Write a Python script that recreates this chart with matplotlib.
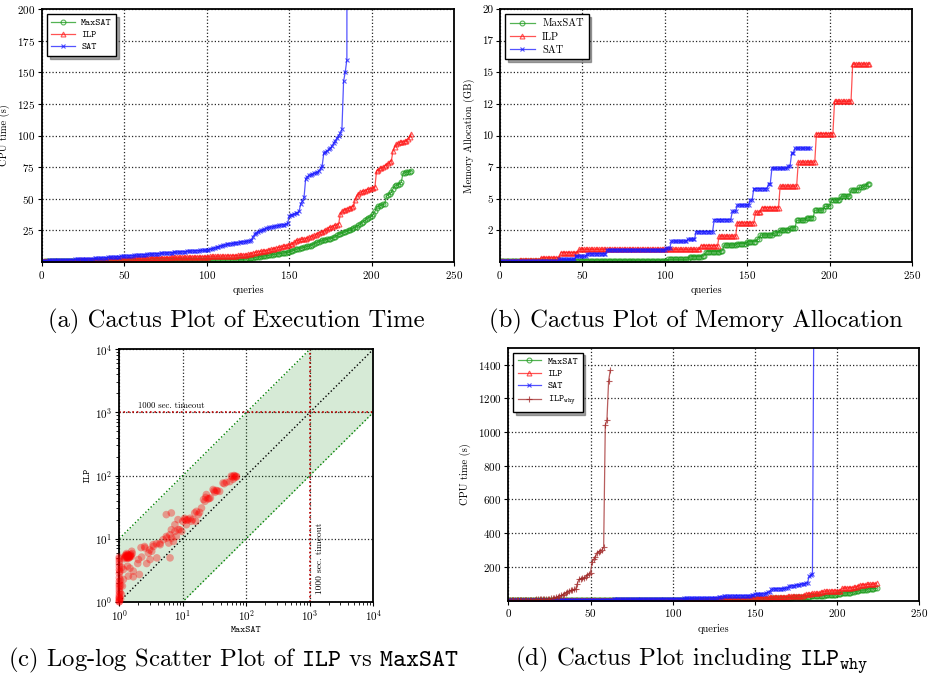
import numpy as np
import matplotlib
matplotlib.use('Agg')
import matplotlib.pyplot as plt
from matplotlib.ticker import FixedLocator, FixedFormatter

plt.rcParams['font.family'] = ['cmr10', 'DejaVu Serif']
plt.rcParams['mathtext.fontset'] = 'cm'
plt.rcParams['axes.formatter.use_mathtext'] = True
plt.rcParams['axes.unicode_minus'] = False

# ---------------- data: CPU time (s), sorted per solver ----------------
time_maxsat = [
    0.3, 0.3, 0.4, 0.4, 0.4, 0.5, 0.5, 0.5, 0.5, 0.6, 0.6, 0.6, 0.6, 0.7, 0.7, 0.7, 0.7, 0.7, 0.8, 0.8,
    0.8, 0.8, 0.8, 0.8, 0.9, 0.9, 0.9, 0.9, 0.9, 0.9, 1.0, 1.0, 1.0, 1.0, 1.0, 1.0, 1.0, 1.0, 1.0, 1.0,
    1.0, 1.0, 1.0, 1.0, 1.0, 1.05, 1.05, 1.05, 1.05, 1.05, 1.1, 1.1, 1.1, 1.1, 1.1, 1.1, 1.1, 1.1, 1.1, 1.1,
    1.1, 1.1, 1.15, 1.15, 1.15, 1.15, 1.2, 1.2, 1.2, 1.2, 1.2, 1.25, 1.25, 1.25, 1.25, 1.3, 1.3, 1.3, 1.3, 1.3,
    1.35, 1.35, 1.35, 1.35, 1.4, 1.4, 1.4, 1.4, 1.4, 1.45, 1.45, 1.45, 1.45, 1.5, 1.5, 1.5, 1.5, 1.5, 1.5, 1.5,
    1.5, 1.55, 1.55, 1.6, 1.6, 1.65, 1.65, 1.7, 1.7, 1.75, 1.75, 1.8, 1.8, 1.85, 1.85, 1.9, 1.9, 1.95, 1.95, 2.0,
    2.0, 2.1, 2.2, 2.4, 2.6, 2.8, 3.0, 3.2, 3.4, 3.6, 3.8, 4.0, 4.2, 4.4, 4.6, 4.8, 5.0, 5.2, 5.4, 5.6,
    5.8, 6.0, 6.2, 6.4, 6.6, 6.8, 7.0, 7.2, 7.4, 7.6, 8.0, 8.5, 9.0, 9.5, 10.0, 10.3, 10.6, 11.0, 11.3, 11.6,
    12.0, 12.3, 12.6, 13.0, 13.5, 14.5, 15.0, 15.5, 16.0, 16.5, 17.0, 17.3, 17.6, 18.0, 18.3, 18.5, 19.0, 19.5, 20.0, 21.0,
    22.0, 22.5, 23.0, 23.5, 24.0, 24.5, 25.0, 25.5, 26.0, 27.0, 27.5, 28.0, 29.0, 30.0, 31.0, 32.0, 33.0, 34.0, 35.0, 35.5,
    36.0, 38.0, 40.0, 43.0, 44.0, 44.5, 45.0, 45.5, 46.0, 52.0, 53.0, 54.0, 55.0, 58.0, 60.0, 60.5, 61.0, 62.0, 63.0, 70.0,
    70.5, 71.0, 71.2, 71.5, 72.0]

time_ilp = [
    0.5, 0.5, 0.6, 0.6, 0.6, 0.7, 0.7, 0.7, 0.8, 0.8, 0.8, 0.9, 0.9, 0.9, 1.0, 1.0, 1.0, 1.0, 1.1, 1.1,
    1.1, 1.1, 1.2, 1.2, 1.2, 1.3, 1.3, 1.3, 1.4, 1.4, 1.5, 1.5, 1.6, 1.6, 1.7, 1.7, 1.8, 1.8, 1.9, 1.9,
    2.0, 2.0, 2.1, 2.1, 2.2, 2.2, 2.3, 2.3, 2.4, 2.4, 2.5, 2.5, 2.6, 2.6, 2.7, 2.7, 2.8, 2.8, 2.9, 2.9,
    3.0, 3.0, 3.0, 3.1, 3.1, 3.1, 3.2, 3.2, 3.2, 3.3, 3.3, 3.3, 3.4, 3.4, 3.4, 3.5, 3.5, 3.5, 3.6, 3.6,
    3.6, 3.7, 3.7, 3.7, 3.8, 3.8, 3.8, 3.9, 3.9, 3.9, 4.0, 4.0, 4.0, 4.1, 4.1, 4.1, 4.2, 4.2, 4.2, 4.3,
    4.3, 4.3, 4.4, 4.4, 4.4, 4.5, 4.5, 4.5, 4.6, 4.6, 4.7, 4.7, 4.8, 4.8, 4.9, 4.9, 5.0, 5.0, 5.1, 5.2,
    5.3, 5.4, 5.5, 5.6, 5.8, 6.0, 6.3, 6.6, 7.0, 7.4, 7.8, 8.0, 8.2, 8.4, 8.6, 8.8, 9.0, 9.3, 9.6, 10.0,
    10.3, 10.6, 11.0, 11.3, 11.6, 12.0, 12.3, 12.6, 12.9, 13.2, 13.5, 14.0, 14.5, 15.5, 16.5, 17.0, 17.5, 17.8, 18.0, 18.2,
    18.5, 19.0, 19.5, 20.0, 20.5, 21.0, 21.5, 22.5, 23.0, 23.5, 24.0, 24.5, 25.0, 26.0, 27.0, 27.5, 28.0, 28.5, 29.0, 29.5,
    30.0, 38.0, 40.0, 41.0, 41.5, 42.0, 42.5, 43.0, 43.5, 44.0, 49.0, 52.0, 54.0, 55.0, 55.5, 56.0, 56.5, 57.0, 57.5, 58.0,
    58.2, 58.5, 59.0, 72.0, 73.0, 74.0, 74.5, 75.0, 76.0, 77.0, 78.0, 79.0, 80.0, 88.0, 91.0, 93.0, 94.0, 94.5, 95.0, 95.0,
    95.5, 96.0, 97.0, 99.0, 101.0]

time_sat = [
    1.0, 1.0, 1.1, 1.1, 1.2, 1.2, 1.3, 1.3, 1.4, 1.4, 1.5, 1.5, 1.6, 1.6, 1.7, 1.7, 1.8, 1.8, 1.9, 1.9,
    2.0, 2.0, 2.1, 2.1, 2.2, 2.2, 2.3, 2.3, 2.4, 2.5, 2.6, 2.7, 2.8, 2.9, 3.0, 3.1, 3.2, 3.3, 3.4, 3.5,
    3.6, 3.7, 3.8, 3.9, 4.0, 4.1, 4.2, 4.3, 4.4, 4.5, 4.6, 4.7, 4.8, 4.9, 5.0, 5.1, 5.2, 5.3, 5.4, 5.5,
    5.6, 5.7, 5.8, 5.9, 6.0, 6.1, 6.2, 6.3, 6.4, 6.5, 6.6, 6.7, 6.8, 6.9, 7.0, 7.1, 7.2, 7.3, 7.4, 7.5,
    7.6, 7.7, 7.8, 7.9, 8.0, 8.1, 8.2, 8.3, 8.4, 8.5, 8.6, 8.7, 8.8, 8.9, 9.0, 9.0, 9.1, 9.1, 9.2, 9.2,
    9.3, 9.6, 10.0, 10.4, 10.8, 11.2, 11.6, 12.0, 12.4, 12.8, 13.2, 13.6, 14.0, 14.2, 14.4, 14.6, 14.8, 15.0, 15.2, 15.4,
    15.6, 15.8, 16.0, 16.2, 16.4, 16.6, 16.8, 17.5, 20.0, 22.0, 23.0, 24.0, 24.5, 25.0, 25.5, 26.0, 26.5, 27.0, 27.3, 27.6,
    27.9, 28.2, 28.5, 28.8, 29.0, 29.2, 29.4, 29.6, 29.8, 30.5, 36.0, 37.0, 37.5, 38.0, 38.5, 39.0, 40.0, 46.0, 48.0, 51.0,
    66.0, 67.5, 68.5, 69.0, 69.5, 70.0, 70.5, 71.0, 72.0, 74.0, 76.0, 86.0, 87.0, 88.0, 89.0, 90.0, 92.0, 94.0, 96.0, 98.0,
    100.0, 102.0, 105.0, 143.0, 150.0, 160.0, 2000.0]

time_ilp_why = [
    1, 1, 1, 2, 2, 2, 2, 3, 3, 3, 3, 4, 4, 4, 5, 5, 5, 6, 6, 6, 7, 7, 8, 8, 9,
    10, 12, 14, 17, 20, 23, 26, 30, 35, 40,
    45, 50, 55, 60, 63, 66, 70, 100, 125, 130,
    133, 136, 140, 150, 158, 165,
    230, 245, 260, 280, 290, 295, 300, 315,
    1040, 1070, 1300, 1365]

# ---------------- data: memory allocation (GB), run-length levels ----------------
mem_maxsat_levels = [0.05, 0.08, 0.2, 0.42, 0.5, 0.82, 0.9, 1.34, 1.45, 1.6, 1.8, 2.13, 2.3, 2.53, 2.7,
                     3.3, 3.5, 4.1, 4.4, 4.9, 5.2, 5.7, 5.9, 6.0, 6.2]
mem_maxsat_runs = [50, 52, 13, 8, 2, 9, 2, 8, 6, 6, 2, 8, 4, 6, 4,
                   6, 5, 6, 4, 6, 6, 5, 3, 2, 2]

mem_ilp_levels = [0.05, 0.15, 0.35, 0.75, 1.0, 1.3, 2.05, 3.1, 3.95, 4.3, 6.0, 7.9, 10.15, 12.7, 15.65]
mem_ilp_runs = [12, 13, 12, 11, 74, 11, 11, 11, 4, 11, 11, 11, 11, 11, 11]

mem_sat_levels = [0.05, 0.2, 0.45, 0.65, 0.95, 1.1, 1.65, 1.8, 2.4, 3.35, 4.0, 4.5, 4.9, 5.8, 6.2,
                  7.4, 7.6, 8.6, 9.0]
mem_sat_runs = [36, 10, 7, 12, 36, 3, 10, 5, 11, 11, 3, 8, 2, 9, 2,
                10, 2, 2, 10]

# ---------------- data: scatter ILP vs MaxSAT (s) ----------------
scatter_maxsat = [
    1.0, 1.0, 1.0, 1.0, 1.0, 1.0, 1.0, 1.0, 1.0, 1.0, 1.0, 1.0, 1.0, 1.0, 1.0, 1.0, 1.0, 1.0, 1.0, 1.0,
    1.03, 1.05, 1.04, 1.02, 1.05, 1.08,
    1.12, 1.16, 1.16, 1.1,
    1.22, 1.25, 1.28, 1.3, 1.32, 1.35, 1.38, 1.4, 1.42, 1.45, 1.48, 1.5, 1.26, 1.33, 1.36, 1.44, 1.52, 1.55,
    1.2, 1.3, 1.4, 1.6,
    1.35, 1.47, 1.66, 1.39, 1.66, 2.07, 1.95, 2.7, 3.05, 3.9, 2.0, 1.57, 2.25, 2.54, 2.87, 3.24, 3.44, 4.4,
    3.86, 4.35, 4.9, 5.5, 5.6, 6.0, 6.7, 6.3, 7.1, 7.9, 5.5, 6.6, 7.5, 8.4, 9.0, 7.5, 6.6, 8.5, 9.6, 6.25,
    3.0, 3.4, 2.2, 2.5,
    10.0, 10.7, 12.1, 11.4, 13.7, 16.4, 18.4, 15.4, 17.5, 19.7, 16.0, 14.2, 10.9, 11.5, 13.0,
    23.5, 21.2, 24.9, 27.2, 22.3, 23.0, 26.0,
    30.0, 33.8, 38.0, 32.0, 35.0, 31.0,
    43.0, 48.5, 55.0, 45.0,
    58.0, 65.6, 69.6, 62.0, 60.0, 64.0, 70.0, 66.0]
scatter_ilp = [
    1.0, 1.05, 1.1, 1.2, 1.3, 1.45, 1.6, 1.75, 1.9, 2.1, 2.4, 2.8, 3.2, 3.6, 4.0, 4.4, 4.8, 5.1, 1.0, 1.15,
    1.4, 1.8, 2.2, 3.0, 1.1, 1.3,
    1.77, 2.25, 3.24, 3.5,
    5.0, 5.3, 5.1, 5.4, 5.2, 5.0, 5.3, 5.5, 5.1, 5.3, 5.2, 5.4, 5.5, 4.9, 5.6, 5.0, 5.6, 5.2,
    4.8, 5.8, 4.9, 5.8,
    3.66, 3.4, 3.05, 2.54, 2.48, 2.7, 4.03, 4.03, 4.66, 4.95, 4.66, 6.3, 5.1, 7.1, 5.9, 6.3, 7.5, 8.0,
    8.3, 8.4, 9.6, 10.8, 10.2, 8.5, 10.2, 4.95, 9.0, 10.8, 24.0, 25.5, 16.6, 20.0, 13.8, 13.0, 13.8, 13.9, 13.0, 11.5,
    6.6, 8.0, 7.2, 7.5,
    18.8, 21.0, 20.0, 16.6, 18.8, 27.0, 26.0, 25.5, 24.0, 30.5, 18.8, 20.0, 20.0, 19.5, 21.0,
    49.9, 41.6, 42.6, 44.1, 39.0, 45.0, 43.0,
    60.0, 58.0, 56.0, 54.0, 57.0, 57.0,
    76.0, 78.0, 80.0, 74.0,
    98.0, 98.0, 95.0, 87.0, 95.0, 100.0, 97.0, 93.0]

labels_solvers = ['MaxSAT', 'ILP', 'SAT']
x_ticks = [0, 50, 100, 150, 200, 250]
time_ticks = [25, 50, 75, 100, 125, 150, 175, 200]
mem_ticks = [2.5, 5, 7.5, 10, 12.5, 15, 17.5, 20]
mem_tick_labels = ['2', '5', '7', '10', '12', '15', '17', '20']
d_ticks = [200, 400, 600, 800, 1000, 1200, 1400]

# ---------------- styling ----------------
C_G = '#1a9a1a'
C_R = '#ff1a1a'
C_B = '#1a1aff'
C_W = '#a02828'
TICK_FS = 8
LAB_FS = 7.5
TT = {'family': 'cmtt10', 'size': 7}
SERIF_LEG = {'family': 'cmr10', 'size': 7.5}

fig = plt.figure(figsize=(9.3, 6.79), dpi=100)


def style_axes(ax):
    for s in ax.spines.values():
        s.set_linewidth(1.3)
        s.set_color('black')
    ax.grid(True, which='major', linestyle=':', color='0.15', linewidth=0.9)
    ax.set_axisbelow(True)
    ax.tick_params(labelsize=TICK_FS, length=3, width=0.8, pad=2)


def cactus(ax, values, color, marker, label, ms=3.5):
    xs = np.arange(len(values))
    ax.plot(xs, values, color=color, marker=marker, markersize=ms, mfc='none',
            mew=0.8, lw=0.9, alpha=0.75, label=label)


def legend(ax, prop):
    lg = ax.legend(loc='upper left', prop=prop, frameon=True, fancybox=False, shadow=True,
                   edgecolor='black', framealpha=1, handlelength=2.4, borderpad=0.45,
                   labelspacing=0.35, handletextpad=0.7, borderaxespad=0.5)
    lg.get_frame().set_linewidth(1.0)
    return lg


# ---- (a) ----
ax_a = fig.add_axes([42 / 930, 1 - 262 / 679, 412 / 930, 253 / 679])
cactus(ax_a, time_maxsat, C_G, 'o', labels_solvers[0])
cactus(ax_a, time_ilp, C_R, '^', labels_solvers[1])
cactus(ax_a, time_sat, C_B, 'x', labels_solvers[2])
ax_a.set_xlim(0, 250)
ax_a.set_ylim(0, 200)
ax_a.set_xticks(x_ticks)
ax_a.set_yticks(time_ticks)
ax_a.set_xlabel('queries', fontsize=LAB_FS, labelpad=3)
ax_a.set_ylabel('CPU time (s)', fontsize=LAB_FS, labelpad=5)
style_axes(ax_a)
legend(ax_a, TT)

# ---- (b) ----
ax_b = fig.add_axes([500 / 930, 1 - 262 / 679, 412 / 930, 253 / 679])
cactus(ax_b, np.repeat(mem_maxsat_levels, mem_maxsat_runs), C_G, 'o', labels_solvers[0])
cactus(ax_b, np.repeat(mem_ilp_levels, mem_ilp_runs), C_R, '^', labels_solvers[1])
cactus(ax_b, np.repeat(mem_sat_levels, mem_sat_runs), C_B, 'x', labels_solvers[2])
ax_b.set_xlim(0, 250)
ax_b.set_ylim(0, 20)
ax_b.set_xticks(x_ticks)
ax_b.yaxis.set_major_locator(FixedLocator(mem_ticks))
ax_b.yaxis.set_major_formatter(FixedFormatter(mem_tick_labels))
ax_b.set_xlabel('queries', fontsize=LAB_FS, labelpad=3)
ax_b.set_ylabel('Memory Allocation (GB)', fontsize=LAB_FS, labelpad=5)
style_axes(ax_b)
legend(ax_b, SERIF_LEG)

# ---- (c) ----
ax_c = fig.add_axes([119.3 / 930, 1 - 601.7 / 679, 254 / 930, 252.4 / 679])
ax_c.set_xscale('log')
ax_c.set_yscale('log')
lims = np.array([1.0, 1e4])
ax_c.fill_between(lims, lims / 10, lims * 10, color='green', alpha=0.16, lw=0, zorder=1)
ax_c.plot(lims, lims * 10, color='green', ls=':', lw=1.0, zorder=2)
ax_c.plot(lims, lims / 10, color='green', ls=':', lw=1.0, zorder=2)
ax_c.plot(lims, lims, color='black', ls=':', lw=1.0, zorder=2)
ax_c.axhline(1000, color='#c00000', ls=':', lw=1.2, zorder=2)
ax_c.axvline(1000, color='#c00000', ls=':', lw=1.2, zorder=2)
ax_c.scatter(scatter_maxsat, scatter_ilp, s=30, color='red', alpha=0.35, edgecolors='none', zorder=3,
             clip_on=False)
ax_c.text(2.0, 1180, '1000 sec. timeout', fontsize=6.3)
ax_c.text(1250, 1.45, '1000 sec. timeout', fontsize=6.8, rotation=90)
ax_c.set_xlim(1, 1e4)
ax_c.set_ylim(1, 1e4)
style_axes(ax_c)
ax_c.tick_params(which='minor', length=2, width=0.6)
ax_c.set_xlabel('MaxSAT', fontdict=TT, labelpad=2)
ax_c.set_ylabel('ILP', fontdict=TT, labelpad=3)

# ---- (d) ----
ax_d = fig.add_axes([508.3 / 930, 1 - 600.5 / 679, 411 / 930, 252.8 / 679])
cactus(ax_d, time_maxsat, C_G, 'o', labels_solvers[0])
cactus(ax_d, time_ilp, C_R, '^', labels_solvers[1])
cactus(ax_d, time_sat, C_B, 'x', labels_solvers[2])
cactus(ax_d, time_ilp_why, C_W, '+', r'$\mathtt{ILP}_{\mathtt{why}}$', ms=4.5)
ax_d.set_xlim(0, 250)
ax_d.set_ylim(0, 1500)
ax_d.set_xticks(x_ticks)
ax_d.set_yticks(d_ticks)
ax_d.set_xlabel('queries', fontsize=LAB_FS, labelpad=3)
ax_d.set_ylabel('CPU time (s)', fontsize=LAB_FS, labelpad=5)
style_axes(ax_d)
legend(ax_d, TT)

# ---- captions ----
CAP_FS = 17.8
fig.text(236 / 930, 1 - 321 / 679, '(a) Cactus Plot of Execution Time', ha='center', va='center',
         fontsize=CAP_FS)
fig.text(696 / 930, 1 - 321 / 679, '(b) Cactus Plot of Memory Allocation', ha='center', va='center',
         fontsize=CAP_FS)
fig.text(234 / 930, 1 - 660 / 679, r'(c) Log-log Scatter Plot of $\mathtt{ILP}$ vs $\mathtt{MaxSAT}$',
         ha='center', va='center', fontsize=CAP_FS)
fig.text(692 / 930, 1 - 660 / 679, r'(d) Cactus Plot including $\mathtt{ILP}_{\mathtt{why}}$',
         ha='center', va='center', fontsize=CAP_FS)

fig.savefig('out.png', dpi=100)
